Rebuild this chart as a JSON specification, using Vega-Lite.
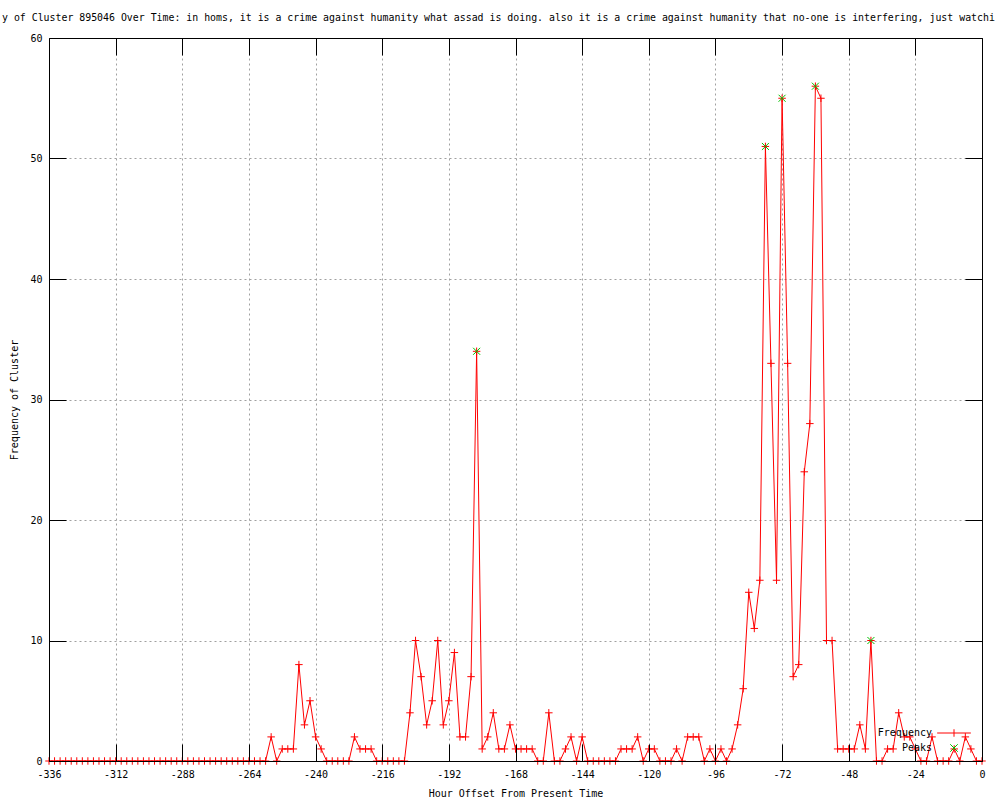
{
  "$schema": "https://vega.github.io/schema/vega-lite/v6.json",
  "width": 933,
  "height": 723,
  "autosize": {"type": "none"},
  "padding": {"left": 49, "top": 38, "right": 18, "bottom": 39},
  "background": "white",
  "config": {
    "font": "DejaVu Sans Mono",
    "view": {"stroke": null},
    "axis": {"labelFont": "DejaVu Sans Mono", "labelFontSize": 10, "labelColor": "black", "titleFont": "DejaVu Sans Mono", "titleFontSize": 10, "titleFontWeight": "normal", "titleColor": "black", "domainColor": "black", "tickColor": "black", "labelFlush": false, "labelOverlap": false}
  },
  "title": {
    "text": "y of Cluster 895046 Over Time: in homs, it is a crime against humanity what assad is doing. also it is a crime against humanity that no-one is interfering, just watchi",
    "anchor": "start", "frame": "group", "dx": -47, "offset": 10,
    "font": "DejaVu Sans Mono", "fontSize": 9.9, "fontWeight": "normal", "color": "black"
  },
  "datasets": {
    "freq": [
      {"hour": -336, "count": 0}, {"hour": -334, "count": 0}, {"hour": -332, "count": 0}, {"hour": -330, "count": 0},
      {"hour": -328, "count": 0}, {"hour": -326, "count": 0}, {"hour": -324, "count": 0}, {"hour": -322, "count": 0},
      {"hour": -320, "count": 0}, {"hour": -318, "count": 0}, {"hour": -316, "count": 0}, {"hour": -314, "count": 0},
      {"hour": -312, "count": 0}, {"hour": -310, "count": 0}, {"hour": -308, "count": 0}, {"hour": -306, "count": 0},
      {"hour": -304, "count": 0}, {"hour": -302, "count": 0}, {"hour": -300, "count": 0}, {"hour": -298, "count": 0},
      {"hour": -296, "count": 0}, {"hour": -294, "count": 0}, {"hour": -292, "count": 0}, {"hour": -290, "count": 0},
      {"hour": -288, "count": 0}, {"hour": -286, "count": 0}, {"hour": -284, "count": 0}, {"hour": -282, "count": 0},
      {"hour": -280, "count": 0}, {"hour": -278, "count": 0}, {"hour": -276, "count": 0}, {"hour": -274, "count": 0},
      {"hour": -272, "count": 0}, {"hour": -270, "count": 0}, {"hour": -268, "count": 0}, {"hour": -266, "count": 0},
      {"hour": -264, "count": 0}, {"hour": -262, "count": 0}, {"hour": -260, "count": 0}, {"hour": -258, "count": 0},
      {"hour": -256, "count": 2}, {"hour": -254, "count": 0}, {"hour": -252, "count": 1}, {"hour": -250, "count": 1},
      {"hour": -248, "count": 1}, {"hour": -246, "count": 8}, {"hour": -244, "count": 3}, {"hour": -242, "count": 5},
      {"hour": -240, "count": 2}, {"hour": -238, "count": 1}, {"hour": -236, "count": 0}, {"hour": -234, "count": 0},
      {"hour": -232, "count": 0}, {"hour": -230, "count": 0}, {"hour": -228, "count": 0}, {"hour": -226, "count": 2},
      {"hour": -224, "count": 1}, {"hour": -222, "count": 1}, {"hour": -220, "count": 1}, {"hour": -218, "count": 0},
      {"hour": -216, "count": 0}, {"hour": -214, "count": 0}, {"hour": -212, "count": 0}, {"hour": -210, "count": 0},
      {"hour": -208, "count": 0}, {"hour": -206, "count": 4}, {"hour": -204, "count": 10}, {"hour": -202, "count": 7},
      {"hour": -200, "count": 3}, {"hour": -198, "count": 5}, {"hour": -196, "count": 10}, {"hour": -194, "count": 3},
      {"hour": -192, "count": 5}, {"hour": -190, "count": 9}, {"hour": -188, "count": 2}, {"hour": -186, "count": 2},
      {"hour": -184, "count": 7}, {"hour": -182, "count": 34}, {"hour": -180, "count": 1}, {"hour": -178, "count": 2},
      {"hour": -176, "count": 4}, {"hour": -174, "count": 1}, {"hour": -172, "count": 1}, {"hour": -170, "count": 3},
      {"hour": -168, "count": 1}, {"hour": -166, "count": 1}, {"hour": -164, "count": 1}, {"hour": -162, "count": 1},
      {"hour": -160, "count": 0}, {"hour": -158, "count": 0}, {"hour": -156, "count": 4}, {"hour": -154, "count": 0},
      {"hour": -152, "count": 0}, {"hour": -150, "count": 1}, {"hour": -148, "count": 2}, {"hour": -146, "count": 0},
      {"hour": -144, "count": 2}, {"hour": -142, "count": 0}, {"hour": -140, "count": 0}, {"hour": -138, "count": 0},
      {"hour": -136, "count": 0}, {"hour": -134, "count": 0}, {"hour": -132, "count": 0}, {"hour": -130, "count": 1},
      {"hour": -128, "count": 1}, {"hour": -126, "count": 1}, {"hour": -124, "count": 2}, {"hour": -122, "count": 0},
      {"hour": -120, "count": 1}, {"hour": -118, "count": 1}, {"hour": -116, "count": 0}, {"hour": -114, "count": 0},
      {"hour": -112, "count": 0}, {"hour": -110, "count": 1}, {"hour": -108, "count": 0}, {"hour": -106, "count": 2},
      {"hour": -104, "count": 2}, {"hour": -102, "count": 2}, {"hour": -100, "count": 0}, {"hour": -98, "count": 1},
      {"hour": -96, "count": 0}, {"hour": -94, "count": 1}, {"hour": -92, "count": 0}, {"hour": -90, "count": 1},
      {"hour": -88, "count": 3}, {"hour": -86, "count": 6}, {"hour": -84, "count": 14}, {"hour": -82, "count": 11},
      {"hour": -80, "count": 15}, {"hour": -78, "count": 51}, {"hour": -76, "count": 33}, {"hour": -74, "count": 15},
      {"hour": -72, "count": 55}, {"hour": -70, "count": 33}, {"hour": -68, "count": 7}, {"hour": -66, "count": 8},
      {"hour": -64, "count": 24}, {"hour": -62, "count": 28}, {"hour": -60, "count": 56}, {"hour": -58, "count": 55},
      {"hour": -56, "count": 10}, {"hour": -54, "count": 10}, {"hour": -52, "count": 1}, {"hour": -50, "count": 1},
      {"hour": -48, "count": 1}, {"hour": -46, "count": 1}, {"hour": -44, "count": 3}, {"hour": -42, "count": 1},
      {"hour": -40, "count": 10}, {"hour": -38, "count": 0}, {"hour": -36, "count": 0}, {"hour": -34, "count": 1},
      {"hour": -32, "count": 1}, {"hour": -30, "count": 4}, {"hour": -28, "count": 2}, {"hour": -26, "count": 2},
      {"hour": -24, "count": 1}, {"hour": -22, "count": 0}, {"hour": -20, "count": 0}, {"hour": -18, "count": 2},
      {"hour": -16, "count": 0}, {"hour": -14, "count": 0}, {"hour": -12, "count": 0}, {"hour": -10, "count": 1},
      {"hour": -8, "count": 0}, {"hour": -6, "count": 2}, {"hour": -4, "count": 1}, {"hour": -2, "count": 0},
      {"hour": 0, "count": 0}
    ],
    "peaks": [
      {"hour": -182, "count": 34},
      {"hour": -78, "count": 51},
      {"hour": -72, "count": 55},
      {"hour": -60, "count": 56},
      {"hour": -40, "count": 10}
    ]
  },
  "resolve": {"axis": {"x": "independent", "y": "independent"}},
  "layer": [
    {
      "data": {"name": "freq"},
      "mark": {"type": "line", "strokeWidth": 1, "interpolate": "linear"},
      "encoding": {
        "x": {"field": "hour", "type": "quantitative", "scale": {"domain": [-336, 0], "nice": false, "zero": false},
          "axis": {"orient": "bottom", "values": [-312, -288, -264, -240, -216, -192, -168, -144, -120, -96, -72, -48, -24], "grid": true, "gridColor": "#a0a0a0", "gridDash": [2, 3], "gridWidth": 1, "domain": false, "ticks": false, "labels": false, "title": null, "zindex": 0}},
        "y": {"field": "count", "type": "quantitative", "scale": {"domain": [0, 60], "nice": false},
          "axis": {"orient": "left", "values": [10, 20, 30, 40, 50], "grid": true, "gridColor": "#a0a0a0", "gridDash": [2, 3], "gridWidth": 1, "domain": false, "ticks": false, "labels": false, "title": null, "zindex": 0}},
        "color": {"datum": "Frequency", "type": "nominal", "scale": {"domain": ["Frequency", "Peaks"], "range": ["#ff0000", "#00c000"]},
          "legend": {"orient": "none", "legendX": 900, "legendY": 690, "title": null, "padding": 0, "labelAlign": "right", "labelOffset": -27, "labelBaseline": "middle", "labelFont": "DejaVu Sans Mono", "labelFontSize": 10, "labelColor": "black", "rowPadding": 3, "symbolSize": 56, "symbolStrokeWidth": 1,
            "encode": {"symbols": {"update": {
              "shape": {"signal": "datum.value === 'Frequency' ? 'M-4.5,0H4.5M0,-1V1' : 'M-1,-1L1,1M-1,1L1,-1'"},
              "fill": {"value": "transparent"},
              "stroke": {"signal": "datum.value === 'Frequency' ? '#ff0000' : '#00c000'"},
              "strokeWidth": {"value": 1},
              "opacity": {"value": 1},
              "size": {"value": 56}}}}}}
      }
    },
    {
      "data": {"name": "freq"},
      "mark": {"type": "point", "shape": "M-1,0H1M0,-1V1", "size": 56, "filled": false, "strokeWidth": 1, "opacity": 1},
      "encoding": {
        "x": {"field": "hour", "type": "quantitative",
          "axis": {"orient": "bottom", "values": [-336, -312, -288, -264, -240, -216, -192, -168, -144, -120, -96, -72, -48, -24, 0], "grid": false, "domain": true, "domainWidth": 1, "ticks": true, "tickSize": -17, "tickWidth": 1, "labels": true, "labelPadding": 25, "labelExpr": "'' + datum.value", "title": "Hour Offset From Present Time", "titlePadding": 9, "zindex": 1}},
        "y": {"field": "count", "type": "quantitative",
          "axis": {"orient": "left", "values": [0, 10, 20, 30, 40, 50, 60], "grid": false, "domain": true, "domainWidth": 1, "ticks": true, "tickSize": -17, "tickWidth": 1, "labels": true, "labelPadding": 24, "labelExpr": "'' + datum.value", "title": "Frequency of Cluster", "titlePadding": 10, "zindex": 1}},
        "color": {"datum": "Frequency", "type": "nominal"}
      }
    },
    {
      "data": {"name": "peaks"},
      "mark": {"type": "point", "shape": "M-1,-1L1,1M-1,1L1,-1", "size": 49, "filled": false, "strokeWidth": 1, "opacity": 1},
      "encoding": {
        "x": {"field": "hour", "type": "quantitative",
          "axis": {"orient": "top", "values": [-336, -312, -288, -264, -240, -216, -192, -168, -144, -120, -96, -72, -48, -24, 0], "grid": false, "domain": true, "domainWidth": 1, "ticks": true, "tickSize": -17, "tickWidth": 1, "labels": false, "title": null, "zindex": 1}},
        "y": {"field": "count", "type": "quantitative",
          "axis": {"orient": "right", "values": [0, 10, 20, 30, 40, 50, 60], "grid": false, "domain": true, "domainWidth": 1, "ticks": true, "tickSize": -17, "tickWidth": 1, "labels": false, "title": null, "zindex": 1}},
        "color": {"datum": "Peaks", "type": "nominal"}
      }
    }
  ]
}
